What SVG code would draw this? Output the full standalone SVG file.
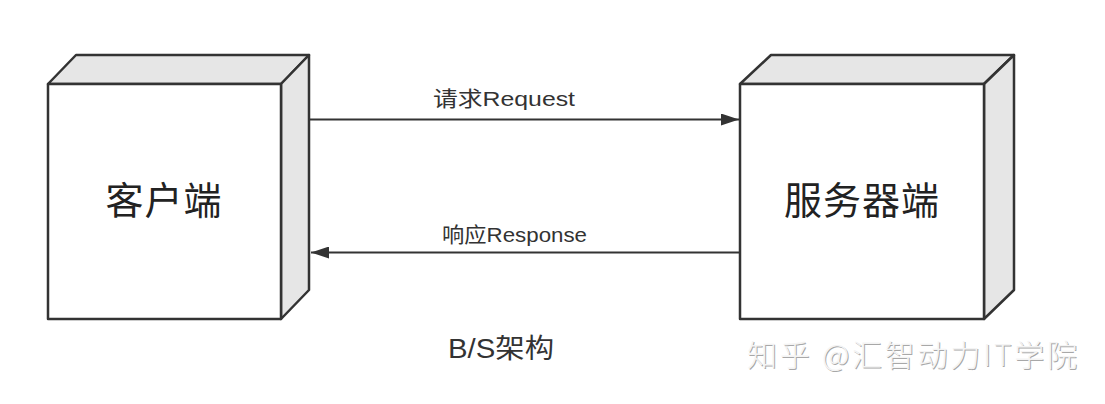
<svg xmlns="http://www.w3.org/2000/svg" width="1105" height="404" viewBox="0 0 1105 404">
<defs>
<style>
.front{fill:#ffffff;stroke:#333333;stroke-width:2.5;stroke-linejoin:round}
.face{fill:#e6e6e6;stroke:#333333;stroke-width:2.5;stroke-linejoin:round}
.big{font-family:"Noto Sans CJK SC","Noto Sans",sans-serif;font-size:38px;fill:#222222;text-anchor:middle}
.lbl{font-family:"Liberation Sans","Noto Sans CJK SC",sans-serif;font-size:21px;fill:#333333}
.cap{font-family:"Liberation Sans","Noto Sans CJK SC",sans-serif;font-size:27px;fill:#333333}
.wm{font-family:"Noto Sans CJK SC",sans-serif;font-size:30px;font-weight:300}
.conn{stroke:#333333;stroke-width:2;fill:none}
</style>
<marker id="arr" markerWidth="18" markerHeight="12" refX="18" refY="6" orient="auto" markerUnits="userSpaceOnUse">
<path d="M0,0 L18,6 L0,12 Z" fill="#333333"/>
</marker>
</defs>
<rect width="1105" height="404" fill="#ffffff"/>
<g id="client">
<polygon class="face" points="48,84 76,55 309,55 281,84"/>
<polygon class="face" points="281,84 309,55 309,290 281,319"/>
<rect class="front" x="48" y="84" width="233" height="235"/>
<text class="big" x="164" y="214" letter-spacing="1">客户端</text>
</g>
<g id="server">
<polygon class="face" points="740,84 771,55 1014,55 984,84"/>
<polygon class="face" points="984,84 1014,55 1014,290 984,319"/>
<rect class="front" x="740" y="84" width="244" height="235"/>
<text class="big" x="862" y="214" letter-spacing="1">服务器端</text>
</g>
<g id="connectors">
<line class="conn" x1="310" y1="119.5" x2="739" y2="119.5" marker-end="url(#arr)"/>
<line class="conn" x1="740" y1="252.5" x2="311" y2="252.5" marker-end="url(#arr)"/>
<text class="lbl" x="433" y="106" textLength="142" lengthAdjust="spacingAndGlyphs">请求Request</text>
<text class="lbl" x="442" y="242" textLength="145" lengthAdjust="spacingAndGlyphs">响应Response</text>
</g>
<text class="cap" x="448" y="358" textLength="106" lengthAdjust="spacingAndGlyphs">B/S架构</text>
<g id="watermark">
<text class="wm" x="748" y="367" textLength="330" fill="#a8a8a8">知乎 @汇智动力IT学院</text>
<text class="wm" x="747" y="366" textLength="330" fill="#f4f4f4">知乎 @汇智动力IT学院</text>
</g>
</svg>
